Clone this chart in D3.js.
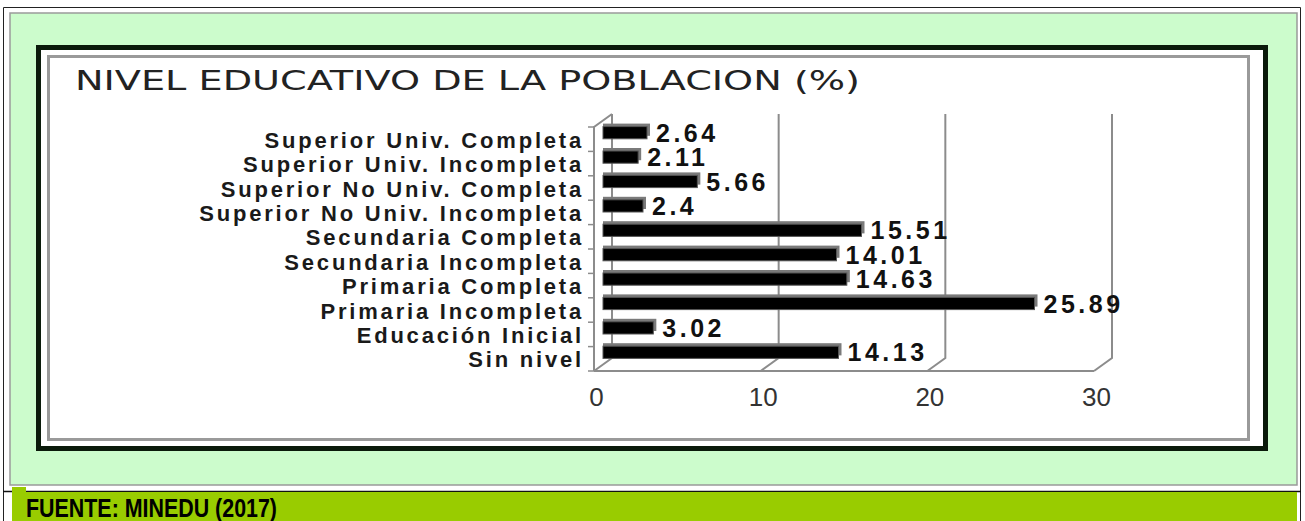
<!DOCTYPE html>
<html>
<head>
<meta charset="utf-8">
<title>Nivel educativo</title>
<script src="https://d3js.org/d3.v7.min.js"></script>
<style>
  body { margin: 0; background: #fff; }
  svg { display: block; }
</style>
</head>
<body>
<svg id="chart"></svg>
<script>
const width = 1305;
const height = 521;

// data (top to bottom)
const categories = [
  'Superior Univ. Completa',
  'Superior Univ. Incompleta',
  'Superior No Univ. Completa',
  'Superior No Univ. Incompleta',
  'Secundaria Completa',
  'Secundaria Incompleta',
  'Primaria Completa',
  'Primaria Incompleta',
  'Educación Inicial',
  'Sin nivel'
];
const values = [2.64, 2.11, 5.66, 2.4, 15.51, 14.01, 14.63, 25.89, 3.02, 14.13];
const xTicks = [0, 10, 20, 30];
const title = 'NIVEL EDUCATIVO DE LA POBLACION (%)';
const source = 'FUENTE: MINEDU (2017)';

const svg = d3.select('#chart')
  .attr('width', width)
  .attr('height', height);

// ---- frames ----
svg.append('rect').attr('width', width).attr('height', height).attr('fill', '#fff');
svg.append('rect')
  .attr('x', 10).attr('y', 13).attr('width', 1287).attr('height', 472)
  .attr('fill', '#ccfccc').attr('stroke', '#9a9a9a').attr('stroke-width', 1.5);
svg.append('path')
  .attr('d', 'M3.5,521 V7.5 H1300.5 V521')
  .attr('fill', 'none').attr('stroke', '#222').attr('stroke-width', 1);
svg.append('line')
  .attr('x1', 3).attr('x2', 1301).attr('y1', 491.5).attr('y2', 491.5)
  .attr('stroke', '#111').attr('stroke-width', 1.5);
svg.append('rect')
  .attr('x', 12).attr('y', 492).attr('width', 1285).attr('height', 29)
  .attr('fill', '#99cc00');
svg.append('rect')
  .attr('x', 12).attr('y', 487).attr('width', 14).attr('height', 34)
  .attr('fill', '#99cc00');
svg.append('text')
  .attr('x', 26).attr('y', 517)
  .attr('font-family', '"Liberation Sans Narrow", "Liberation Sans", Arial, sans-serif')
  .attr('font-weight', 'bold')
  .attr('font-size', 25)
  .attr('textLength', 251)
  .attr('lengthAdjust', 'spacingAndGlyphs')
  .attr('fill', '#000')
  .text(source);

// chart box
svg.append('rect')
  .attr('x', 38.5).attr('y', 47.5).attr('width', 1227).attr('height', 401)
  .attr('fill', '#fff').attr('stroke', '#0a1a0a').attr('stroke-width', 5);
svg.append('rect')
  .attr('x', 48.5).attr('y', 56.5).attr('width', 1200).attr('height', 383)
  .attr('fill', '#fff').attr('stroke', '#9a9a9a').attr('stroke-width', 3);

svg.append('text')
  .attr('x', 75).attr('y', 90)
  .attr('font-family', '"DejaVu Sans", sans-serif')
  .attr('font-size', 27)
  .attr('textLength', 785)
  .attr('lengthAdjust', 'spacingAndGlyphs')
  .attr('fill', '#222')
  .text(title);

// ---- scales ----
const x = d3.scaleLinear().domain([0, 30]).range([594, 1094]);
const y = d3.scaleBand().domain(categories).range([127, 371]).paddingInner(0.5).paddingOuter(0.25);
const band = y.step();
const dx = 18, dy = -13;  // 3d depth

const grid = svg.append('g').attr('stroke', '#8c8c8c').attr('stroke-width', 2).attr('fill', 'none');

// back wall gridlines + floor diagonals
grid.selectAll('path.g')
  .data(xTicks)
  .enter()
  .append('path')
  .attr('class', 'g')
  .attr('d', d => `M${x(d)},371 L${x(d) + dx},${371 + dy} V${127 + dy}`);

// left wall
grid.append('path')
  .attr('d', `M${x(0)},371 V127 L${x(0) + dx},${127 + dy}`);
// floor front edge
grid.append('line')
  .attr('x1', x(0)).attr('x2', x(30)).attr('y1', 371).attr('y2', 371);

// small category ticks on the left wall
grid.selectAll('line.t')
  .data(d3.range(categories.length + 1))
  .enter()
  .append('line')
  .attr('class', 't')
  .attr('stroke-width', 1.5)
  .attr('x1', x(0) - 6).attr('x2', x(0))
  .attr('y1', i => 127 + i * band).attr('y2', i => 127 + i * band);

// ---- bars ----
const bx = dx / 2, by = dy / 2;
const bars = svg.append('g');
const bh = y.bandwidth();

bars.selectAll('rect.side')
  .data(values)
  .enter()
  .append('rect')
  .attr('class', 'side')
  .attr('x', (d, i) => x(0) + bx)
  .attr('y', (d, i) => y(categories[i]) + by - 3)
  .attr('width', d => x(d) - x(0) + 3)
  .attr('height', bh)
  .attr('fill', '#7a7a7a');

bars.selectAll('rect.front')
  .data(values)
  .enter()
  .append('rect')
  .attr('class', 'front')
  .attr('x', (d, i) => x(0) + bx)
  .attr('y', (d, i) => y(categories[i]) + by)
  .attr('width', d => x(d) - x(0))
  .attr('height', bh)
  .attr('fill', '#000')
  .attr('stroke', '#555')
  .attr('stroke-width', 1);

// value labels
svg.selectAll('text.val')
  .data(values)
  .enter()
  .append('text')
  .attr('class', 'val')
  .attr('x', d => x(d) + bx + 9)
  .attr('y', (d, i) => y(categories[i]) + by + bh / 2)
  .attr('dominant-baseline', 'central')
  .attr('font-family', '"Liberation Sans", Arial, sans-serif')
  .attr('font-weight', 'bold')
  .attr('font-size', 25)
  .attr('letter-spacing', 3.5)
  .attr('fill', '#111')
  .text(d => d);

// category labels
svg.selectAll('text.cat')
  .data(categories)
  .enter()
  .append('text')
  .attr('class', 'cat')
  .attr('x', 584)
  .attr('y', d => y(d) + bh / 2 + 1)
  .attr('text-anchor', 'end')
  .attr('dominant-baseline', 'central')
  .attr('font-family', '"Liberation Sans", Arial, sans-serif')
  .attr('font-weight', 'bold')
  .attr('font-size', 22)
  .attr('letter-spacing', 2.8)
  .attr('fill', '#1a1a1a')
  .text(d => d);

// x axis labels
const xAxis = d3.axisBottom(x).tickValues(xTicks).tickSize(0).tickPadding(0);
const ax = svg.append('g')
  .attr('transform', 'translate(2, 388)')
  .call(xAxis);
ax.select('.domain').remove();
ax.selectAll('text')
  .attr('font-family', '"Liberation Sans", Arial, sans-serif')
  .attr('font-size', 26)
  .attr('fill', '#333');
</script>
</body>
</html>
